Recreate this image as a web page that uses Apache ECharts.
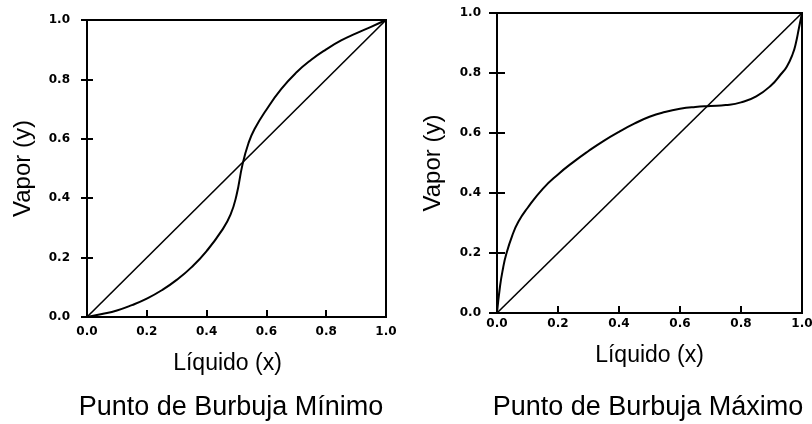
<!DOCTYPE html>
<html lang="es">
  <head>
    <meta charset="UTF-8" />
    <title>Punto de Burbuja</title>
    <script src="https://cdn.jsdelivr.net/npm/echarts@6/dist/echarts.min.js"></script>
    <style>
      html, body { margin: 0; padding: 0; background: #fff; }
    </style>
  </head>

  <body>
    <div id="main" style="width: 812px; height: 424px"></div>
    <script type="text/javascript">
      // minimo (curva en S, cruza la diagonal en x ~ 0.52)
      var minX = [0, 0.05, 0.1, 0.15, 0.2, 0.25, 0.3, 0.35, 0.4, 0.45, 0.48, 0.5,
        0.52, 0.54, 0.56, 0.6, 0.65, 0.7, 0.75, 0.8, 0.85, 0.9, 0.95, 1];
      var minY = [0, 0.01, 0.022, 0.04, 0.062, 0.09, 0.125, 0.168, 0.222, 0.29, 0.345, 0.41,
        0.513, 0.585, 0.632, 0.698, 0.768, 0.823, 0.866, 0.901, 0.931, 0.955, 0.977, 1];

      // maximo (azeotropo en x ~ 0.69)
      var maxX = [0, 0.01, 0.02, 0.03, 0.05, 0.07, 0.1, 0.15, 0.2, 0.25, 0.3, 0.35, 0.4,
        0.45, 0.5, 0.55, 0.6, 0.65, 0.7, 0.75, 0.8, 0.85, 0.9, 0.93, 0.95, 0.97, 0.98, 0.99, 1];
      var maxY = [0, 0.09, 0.15, 0.195, 0.258, 0.304, 0.35, 0.414, 0.462, 0.503, 0.54, 0.574, 0.604,
        0.631, 0.654, 0.67, 0.681, 0.687, 0.69, 0.693, 0.702, 0.722, 0.76, 0.795, 0.821, 0.865, 0.9, 0.95, 1];

      var diagX = [0, 1];
      var diagY = [0, 1];

      var titles = ["Punto de Burbuja Mínimo", "Punto de Burbuja Máximo"];

      function pairs(xs, ys) {
        return xs.map(function (x, i) {
          return [x, ys[i]];
        });
      }

      var FONT = "'Liberation Sans', Arial, sans-serif";
      var tickFont = {
        color: "#000",
        fontFamily: "'DejaVu Sans', sans-serif",
        fontWeight: "bold",
        fontSize: 12,
      };

      function xAxisFor(grid, margin, pad) {
        return {
          type: "value",
          gridIndex: grid,
          min: 0,
          max: 1,
          interval: 0.2,
          position: "bottom",
          name: "Líquido (x)",
          nameLocation: "middle",
          nameGap: margin + 26,
          nameTextStyle: { color: "#000", fontFamily: FONT, fontSize: 23, padding: pad },
          axisLine: { lineStyle: { color: "#000", width: 2 } },
          axisTick: { inside: true, length: 7, lineStyle: { color: "#000", width: 2 } },
          axisLabel: Object.assign({ margin: margin, formatter: function (v) { return v.toFixed(1); } }, tickFont),
          splitLine: { show: false },
        };
      }

      function yAxesFor(grid, margin, tickLen) {
        return [
          {
            type: "value",
            gridIndex: grid,
            min: 0,
            max: 1,
            interval: 0.2,
            position: "left",
            name: "Vapor (y)",
            nameLocation: "middle",
            nameRotate: 90,
            nameGap: 52,
            nameTextStyle: { color: "#000", fontFamily: FONT, fontSize: 24 },
            axisLine: { lineStyle: { color: "#000", width: 2 } },
            axisTick: { inside: false, length: tickLen, lineStyle: { color: "#000", width: 2 } },
            axisLabel: Object.assign({ margin: margin, formatter: function (v) { return v.toFixed(1); } }, tickFont),
            splitLine: { show: false },
          },
          {
            // marcas hacia dentro
            type: "value",
            gridIndex: grid,
            min: 0,
            max: 1,
            interval: 0.2,
            position: "left",
            axisLine: { show: false },
            axisTick: { inside: true, length: tickLen, lineStyle: { color: "#000", width: 2 } },
            axisLabel: { show: false },
            splitLine: { show: false },
          },
        ];
      }

      function lineSeries(xi, yi, data, w) {
        return {
          type: "line",
          xAxisIndex: xi,
          yAxisIndex: yi,
          data: data,
          smooth: 0.5,
          showSymbol: false,
          symbol: "none",
          silent: true,
          lineStyle: { color: "#000", width: w },
        };
      }

      var chart = echarts.init(document.getElementById("main"), null, { renderer: "canvas" });

      var option = {
        animation: false,
        backgroundColor: "#fff",
        grid: [
          { left: 87, top: 20, width: 299, height: 297, show: true, borderColor: "#000", borderWidth: 2, outerBoundsMode: "none" },
          { left: 497, top: 13, width: 305, height: 300, show: true, borderColor: "#000", borderWidth: 2, outerBoundsMode: "none" },
        ],
        xAxis: [xAxisFor(0, 9, [0, 18, 0, 0]), xAxisFor(1, 5, 0)],
        yAxis: yAxesFor(0, 17, 6).concat(yAxesFor(1, 16, 8)),
        series: [
          lineSeries(0, 0, pairs(diagX, diagY), 1.6),
          lineSeries(0, 0, pairs(minX, minY), 2),
          lineSeries(1, 2, pairs(diagX, diagY), 1.6),
          lineSeries(1, 2, pairs(maxX, maxY), 2),
        ],
        graphic: [
          {
            type: "text",
            x: 231,
            y: 408,
            style: { text: titles[0], font: "27px " + FONT, fill: "#000", textAlign: "center", textVerticalAlign: "middle" },
          },
          {
            type: "text",
            x: 648,
            y: 408,
            style: { text: titles[1], font: "27px " + FONT, fill: "#000", textAlign: "center", textVerticalAlign: "middle" },
          },
        ],
      };

      chart.setOption(option);
    </script>
  </body>
</html>
